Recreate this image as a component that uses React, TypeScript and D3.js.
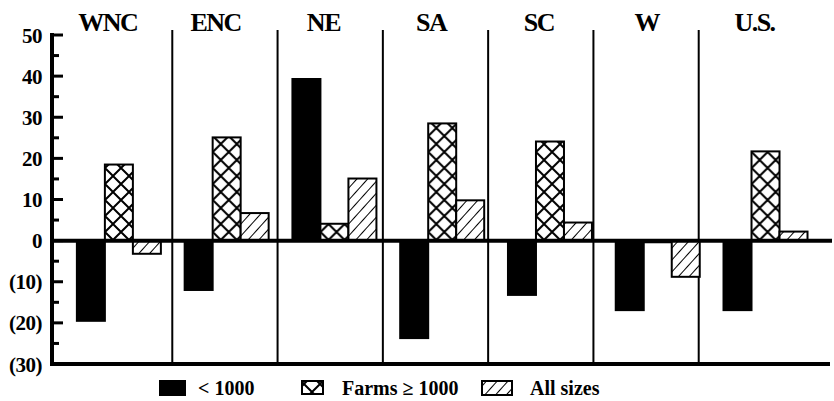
import React from "react";
import * as d3 from "d3";

// regions and percent change values
const regions = ["WNC", "ENC", "NE", "SA", "SC", "W", "U.S."];
const smallFarms = [-19.5, -12, 39.3, -23.7, -13.2, -16.9, -16.9];
const largeFarms = [18.5, 25.1, 4.1, 28.5, 24.1, -0.4, 21.7];
const allSizes = [-3.2, 6.7, 15.1, 9.8, 4.4, -8.8, 2.2];

const series = [
  { key: "small", label: "< 1000", values: smallFarms, fill: "#000" },
  { key: "large", label: "Farms \u2265 1000", values: largeFarms, fill: "url(#cross)" },
  { key: "all", label: "All sizes", values: allSizes, fill: "url(#hatch)" },
];

const majorTicks = [50, 40, 30, 20, 10, 0, -10, -20, -30];
const minorTicks = [45, 35, 25, 15, 5, -5, -15, -25];
const tickLabel = (v: number) => (v < 0 ? `(${-v})` : `${v}`);

const width = 834;
const height = 401;
const axisX = 52;
const rightEdge = 832;
const font = "'Liberation Serif', 'Times New Roman', serif";

const App: React.FC = () => {
  const y = d3.scaleLinear().domain([-30, 50]).range([364, 35]);

  // panels separated by thin vertical rules
  const panel = d3.scaleBand<string>().domain(regions).range([67, 804]).padding(0);
  // bar groups sit on a slightly wider spacing
  const group = d3.scaleBand<string>().domain(regions).range([65, 819.4]).padding(0);
  const gw = group.bandwidth();
  const inner = d3
    .scaleBand<string>()
    .domain(series.map((s) => s.key))
    .range([gw / 2 - 42, gw / 2 + 42])
    .padding(0);

  const legend = [
    { key: "small", box: [160, 381, 25, 14], text: 198 },
    { key: "large", box: [302, 381, 21, 13], text: 342 },
    { key: "all", box: [482, 381, 30, 14], text: 530 },
  ];

  return (
    <svg
      width={width}
      height={height}
      style={{ position: "absolute", left: 0, top: 0, background: "#fff" }}
      fontFamily={font}
      fontWeight="bold"
    >
      <defs>
        <pattern id="cross" width="16" height="16" patternUnits="userSpaceOnUse">
          <rect width="16" height="16" fill="#fff" />
          <path d="M0,0 L16,16 M16,0 L0,16" stroke="#000" strokeWidth="2" />
        </pattern>
        <pattern
          id="hatch"
          width="8"
          height="8"
          patternUnits="userSpaceOnUse"
          patternTransform="rotate(42)"
        >
          <rect width="8" height="8" fill="#fff" />
          <line x1="0" y1="0" x2="0" y2="8" stroke="#000" strokeWidth="2" />
        </pattern>
      </defs>

      {/* panel dividers */}
      {regions.slice(1).map((r) => (
        <line
          key={r}
          x1={panel(r)}
          x2={panel(r)}
          y1={30}
          y2={364}
          stroke="#000"
          strokeWidth={2}
        />
      ))}

      {/* region headings */}
      {regions.map((r) => (
        <text
          key={r}
          x={(group(r) || 0) + gw / 2 - 11}
          y={31}
          fontSize={26}
          letterSpacing={-1.5}
          textAnchor="middle"
        >
          {r}
        </text>
      ))}

      {/* bars */}
      {regions.map((r, i) => (
        <g key={r} transform={`translate(${group(r)},0)`}>
          {series.map((s) => {
            const v = s.values[i];
            return (
              <rect
                key={s.key}
                x={inner(s.key)}
                width={inner.bandwidth()}
                y={y(Math.max(0, v))}
                height={Math.abs(y(v) - y(0))}
                fill={s.fill}
                stroke="#000"
                strokeWidth={2}
              />
            );
          })}
        </g>
      ))}

      {/* zero line and bottom line */}
      <line x1={axisX - 2} x2={rightEdge} y1={y(0)} y2={y(0)} stroke="#000" strokeWidth={4} />
      <line x1={axisX - 2} x2={rightEdge - 2} y1={y(-30)} y2={y(-30)} stroke="#000" strokeWidth={4} />

      {/* y axis */}
      <line x1={axisX} x2={axisX} y1={33} y2={366} stroke="#000" strokeWidth={4} />
      {majorTicks.map((t) => (
        <g key={t}>
          <line x1={axisX} x2={axisX + 11} y1={y(t)} y2={y(t)} stroke="#000" strokeWidth={3} />
          <text x={42} y={y(t)} dy="0.36em" fontSize={21} textAnchor="end" letterSpacing={-0.5}>
            {tickLabel(t)}
          </text>
        </g>
      ))}
      {minorTicks.map((t) => (
        <line key={t} x1={axisX} x2={axisX + 7} y1={y(t)} y2={y(t)} stroke="#000" strokeWidth={3} />
      ))}

      {/* legend */}
      {legend.map((l) => {
        const s = series.find((d) => d.key === l.key)!;
        const [bx, by, bw, bh] = l.box;
        return (
          <g key={l.key}>
            <rect x={bx} y={by} width={bw} height={bh} fill={s.fill} stroke="#000" strokeWidth={2} />
            <text x={l.text} y={395} fontSize={20}>
              {s.label}
            </text>
          </g>
        );
      })}
    </svg>
  );
};

export default App;
